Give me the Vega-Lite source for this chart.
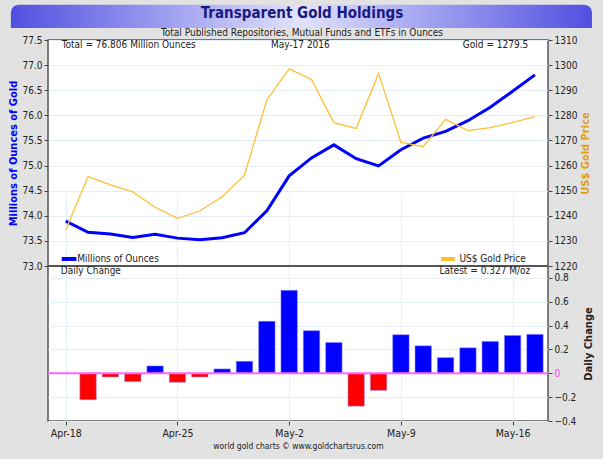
{
  "$schema": "https://vega.github.io/schema/vega-lite/v6.json",
  "width": 500,
  "height": 381,
  "autosize": {"type": "none"},
  "padding": {"left": 48, "top": 40, "right": 55, "bottom": 38},
  "background": "#e2e2e2",
  "title": {
    "text": "Transparent Gold Holdings",
    "subtitle": "Total Published Repositories, Mutual Funds and ETFs in Ounces",
    "anchor": "middle",
    "frame": "group",
    "fontSize": 15,
    "fontWeight": "bold",
    "color": "#1a1a80",
    "subtitleFontSize": 10,
    "subtitleColor": "#222222",
    "subtitlePadding": 7,
    "offset": -33,
    "dx": 4
  },
  "data": {
    "values": [
      {"idx": 0, "date": "2016-04-18", "holdings": 73.892, "gold": 1234.3, "change": null},
      {"idx": 1, "date": "2016-04-19", "holdings": 73.670, "gold": 1255.6, "change": -0.222},
      {"idx": 2, "date": "2016-04-20", "holdings": 73.639, "gold": 1252.3, "change": -0.031},
      {"idx": 3, "date": "2016-04-21", "holdings": 73.569, "gold": 1249.5, "change": -0.070},
      {"idx": 4, "date": "2016-04-22", "holdings": 73.631, "gold": 1243.4, "change": 0.062},
      {"idx": 5, "date": "2016-04-25", "holdings": 73.555, "gold": 1239.0, "change": -0.076},
      {"idx": 6, "date": "2016-04-26", "holdings": 73.524, "gold": 1241.9, "change": -0.031},
      {"idx": 7, "date": "2016-04-27", "holdings": 73.561, "gold": 1247.6, "change": 0.037},
      {"idx": 8, "date": "2016-04-28", "holdings": 73.662, "gold": 1256.2, "change": 0.101},
      {"idx": 9, "date": "2016-04-29", "holdings": 74.099, "gold": 1286.1, "change": 0.437},
      {"idx": 10, "date": "2016-05-02", "holdings": 74.795, "gold": 1298.5, "change": 0.696},
      {"idx": 11, "date": "2016-05-03", "holdings": 75.153, "gold": 1294.3, "change": 0.358},
      {"idx": 12, "date": "2016-05-04", "holdings": 75.412, "gold": 1277.1, "change": 0.259},
      {"idx": 13, "date": "2016-05-05", "holdings": 75.136, "gold": 1274.8, "change": -0.276},
      {"idx": 14, "date": "2016-05-06", "holdings": 74.992, "gold": 1296.7, "change": -0.144},
      {"idx": 15, "date": "2016-05-09", "holdings": 75.316, "gold": 1269.3, "change": 0.324},
      {"idx": 16, "date": "2016-05-10", "holdings": 75.547, "gold": 1267.5, "change": 0.231},
      {"idx": 17, "date": "2016-05-11", "holdings": 75.679, "gold": 1278.4, "change": 0.132},
      {"idx": 18, "date": "2016-05-12", "holdings": 75.893, "gold": 1273.9, "change": 0.214},
      {"idx": 19, "date": "2016-05-13", "holdings": 76.161, "gold": 1275.1, "change": 0.268},
      {"idx": 20, "date": "2016-05-16", "holdings": 76.479, "gold": 1277.1, "change": 0.318},
      {"idx": 21, "date": "2016-05-17", "holdings": 76.806, "gold": 1279.5, "change": 0.327}
    ]
  },
  "layer": [
    {
      "layer": [
        {
          "mark": {"type": "line", "color": "#0000ff", "strokeWidth": 3},
          "encoding": {
            "x": {
              "field": "idx",
              "type": "quantitative",
              "scale": {"domain": [-0.57, 21.36], "zero": false, "nice": false},
              "axis": {
                "values": [0, 5, 10, 15, 20],
                "labelExpr": "datum.value == 0 ? 'Apr-18' : datum.value == 5 ? 'Apr-25' : datum.value == 10 ? 'May-2' : datum.value == 15 ? 'May-9' : 'May-16'",
                "grid": true,
                "labelFontSize": 10.5,
                "title": "world gold charts © www.goldchartsrus.com",
                "titleFontSize": 8.5,
                "titleFontWeight": "normal",
                "titleColor": "#222222",
                "titlePadding": 3,
                "labelPadding": 3
              }
            },
            "y": {
              "field": "holdings",
              "type": "quantitative",
              "scale": {"domain": [73, 77.5], "range": [226, 0], "zero": false, "nice": false},
              "axis": {
                "orient": "left",
                "values": [73, 73.5, 74, 74.5, 75, 75.5, 76, 76.5, 77, 77.5],
                "format": ".1f",
                "grid": true,
                "title": "Millions of Ounces of Gold",
                "titleColor": "#0000ff",
                "titleFontWeight": "bold",
                "titlePadding": 3
              }
            }
          }
        },
        {
          "data": {"values": [{}]},
          "mark": {
            "type": "rect",
            "cornerRadiusTopLeft": 8,
            "cornerRadiusTopRight": 8,
            "fill": {
              "gradient": "linear",
              "x1": 0, "y1": 0, "x2": 1, "y2": 0,
              "stops": [
                {"offset": 0, "color": "#5050e0"},
                {"offset": 0.5, "color": "#e2e2ff"},
                {"offset": 1, "color": "#5050e0"}
              ]
            }
          },
          "encoding": {
            "x": {"datum": -2.456, "type": "quantitative"},
            "x2": {"datum": 23.55},
            "y": {"datum": 78.2, "type": "quantitative"},
            "y2": {"datum": 77.74}
          }
        },
        {
          "data": {"values": [{}]},
          "mark": {"type": "rule", "color": "#555555", "strokeWidth": 2},
          "encoding": {"y": {"datum": 73, "type": "quantitative"}}
        },
        {
          "data": {"values": [{}]},
          "mark": {"type": "rule", "color": "#0000ff", "strokeWidth": 4},
          "encoding": {
            "x": {"datum": -0.18, "type": "quantitative"},
            "x2": {"datum": 0.48},
            "y": {"datum": 73.14, "type": "quantitative"}
          }
        },
        {
          "data": {"values": [{}]},
          "mark": {"type": "text", "text": "Millions of Ounces", "align": "left", "baseline": "middle", "fontSize": 10, "color": "#222222"},
          "encoding": {
            "x": {"datum": 0.51, "type": "quantitative"},
            "y": {"datum": 73.14, "type": "quantitative"}
          }
        },
        {
          "data": {"values": [{}]},
          "mark": {"type": "text", "text": "Total = 76.806 Million Ounces", "align": "left", "baseline": "middle", "fontSize": 10, "color": "#222222"},
          "encoding": {
            "x": {"datum": -0.18, "type": "quantitative"},
            "y": {"datum": 77.4, "type": "quantitative"}
          }
        },
        {
          "data": {"values": [{}]},
          "mark": {"type": "text", "text": "May-17  2016", "align": "center", "baseline": "middle", "fontSize": 10, "color": "#222222"},
          "encoding": {
            "x": {"datum": 10.5, "type": "quantitative"},
            "y": {"datum": 77.4, "type": "quantitative"}
          }
        },
        {
          "data": {"values": [{}]},
          "mark": {"type": "text", "text": "Gold = 1279.5", "align": "right", "baseline": "middle", "fontSize": 10, "color": "#222222"},
          "encoding": {
            "x": {"datum": 20.7, "type": "quantitative"},
            "y": {"datum": 77.4, "type": "quantitative"}
          }
        }
      ]
    },
    {
      "layer": [
        {
          "mark": {"type": "line", "color": "#ffbf33", "strokeWidth": 1.3},
          "encoding": {
            "x": {"field": "idx", "type": "quantitative"},
            "y": {
              "field": "gold",
              "type": "quantitative",
              "scale": {"domain": [1220, 1310], "range": [226, 0], "zero": false, "nice": false},
              "axis": {
                "orient": "right",
                "values": [1220, 1230, 1240, 1250, 1260, 1270, 1280, 1290, 1300, 1310],
                "format": "d",
                "grid": false,
                "title": "US$ Gold Price",
                "titleColor": "#e0a010",
                "titleFontWeight": "bold",
                "titleAngle": 270,
                "titleBaseline": "top",
                "titlePadding": 3
              }
            }
          }
        },
        {
          "data": {"values": [{}]},
          "mark": {"type": "rule", "color": "#ffbf20", "strokeWidth": 4},
          "encoding": {
            "x": {"datum": 16.8, "type": "quantitative"},
            "x2": {"datum": 17.41},
            "y": {"datum": 1222.8, "type": "quantitative"}
          }
        },
        {
          "data": {"values": [{}]},
          "mark": {"type": "text", "text": "US$ Gold Price", "align": "left", "baseline": "middle", "fontSize": 10, "color": "#222222"},
          "encoding": {
            "x": {"datum": 17.62, "type": "quantitative"},
            "y": {"datum": 1222.8, "type": "quantitative"}
          }
        }
      ]
    },
    {
      "layer": [
        {
          "mark": {"type": "bar", "size": 16.5, "stroke": "#a0a0ff", "strokeWidth": 0.5},
          "encoding": {
            "x": {"field": "idx", "type": "quantitative"},
            "y": {
              "field": "change",
              "type": "quantitative",
              "scale": {"domain": [-0.4, 0.9], "range": [381, 226], "zero": false, "nice": false},
              "axis": {
                "orient": "right",
                "values": [-0.4, -0.2, 0, 0.2, 0.4, 0.6, 0.8],
                "format": "~g",
                "grid": true,
                "title": "Daily Change",
                "titleColor": "#222222",
                "titleFontWeight": "bold",
                "titleAngle": 270,
                "titleBaseline": "top",
                "titlePadding": 7,
                "labelColor": {"condition": {"test": "datum.value === 0", "value": "#ff44ff"}, "value": "#222222"}
              }
            },
            "y2": {"datum": 0},
            "color": {"condition": {"test": "datum.change < 0", "value": "#ff0000"}, "value": "#0000ff"}
          }
        },
        {
          "data": {"values": [{}]},
          "mark": {"type": "rule", "color": "#ff66ff", "strokeWidth": 2},
          "encoding": {"y": {"datum": 0, "type": "quantitative"}}
        },
        {
          "data": {"values": [{}]},
          "mark": {"type": "text", "text": "Daily Change", "align": "left", "baseline": "middle", "fontSize": 10, "color": "#222222"},
          "encoding": {
            "x": {"datum": -0.22, "type": "quantitative"},
            "y": {"datum": 0.858, "type": "quantitative"}
          }
        },
        {
          "data": {"values": [{}]},
          "mark": {"type": "text", "text": "Latest = 0.327 M/oz", "align": "right", "baseline": "middle", "fontSize": 10, "color": "#222222"},
          "encoding": {
            "x": {"datum": 20.79, "type": "quantitative"},
            "y": {"datum": 0.858, "type": "quantitative"}
          }
        }
      ]
    }
  ],
  "resolve": {"scale": {"y": "independent"}, "axis": {"y": "independent"}},
  "config": {
    "font": "Liberation Sans Narrow, DejaVu Sans Condensed, Liberation Sans, sans-serif",
    "view": {"stroke": "#555555", "strokeWidth": 1.5, "fill": "#ffffff"},
    "axis": {
      "labelFontSize": 10,
      "labelColor": "#222222",
      "tickColor": "#444444",
      "tickSize": 4,
      "domain": false,
      "gridColor": "#e2eefa",
      "gridWidth": 1,
      "labelPadding": 2,
      "titleFontSize": 11
    }
  }
}
